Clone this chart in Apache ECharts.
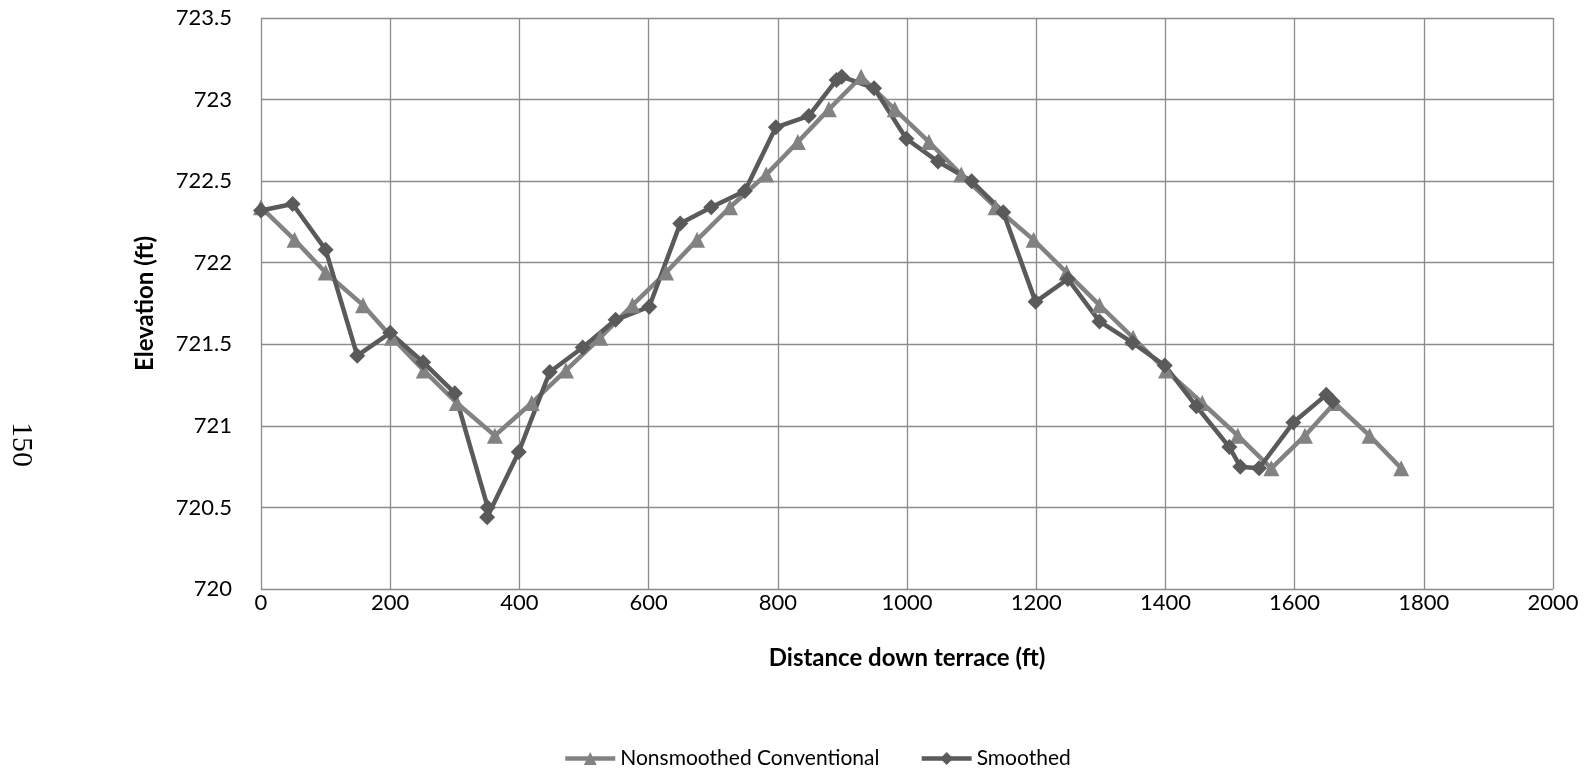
<!DOCTYPE html>
<html>
<head>
<meta charset="utf-8">
<script src="https://cdn.jsdelivr.net/npm/echarts@6/dist/echarts.min.js"></script>
<style>html,body{margin:0;padding:0;background:#fff;}#c{width:1592px;height:772px;}</style>
</head>
<body>
<div id="c"></div>
<script>
// Nonsmoothed Conventional
const convDist = [0, 52, 100, 158, 203, 252, 303, 362, 419, 472, 525, 575, 627, 675, 726, 782, 831, 879, 929, 981, 1034, 1084, 1137, 1196, 1247, 1298, 1350, 1401, 1457, 1512, 1564, 1616, 1662, 1716, 1765];
const convElev = [722.34, 722.14, 721.94, 721.74, 721.54, 721.34, 721.14, 720.94, 721.14, 721.34, 721.54, 721.74, 721.94, 722.14, 722.34, 722.54, 722.74, 722.94, 723.14, 722.94, 722.74, 722.54, 722.34, 722.14, 721.94, 721.74, 721.54, 721.34, 721.14, 720.94, 720.74, 720.94, 721.14, 720.94, 720.74];
// Smoothed
const smDist = [0, 49, 100, 149, 200, 251, 300, 351, 350, 399, 447, 498, 549, 601, 649, 697, 749, 797, 848, 891, 899, 949, 999, 1048, 1100, 1149, 1199, 1249, 1298, 1349, 1399, 1448, 1499, 1516, 1545, 1598, 1649, 1659];
const smElev = [722.32, 722.36, 722.08, 721.43, 721.57, 721.39, 721.20, 720.50, 720.44, 720.84, 721.33, 721.48, 721.65, 721.73, 722.24, 722.34, 722.44, 722.83, 722.90, 723.12, 723.14, 723.07, 722.76, 722.62, 722.50, 722.31, 721.76, 721.90, 721.64, 721.51, 721.37, 721.12, 720.87, 720.75, 720.74, 721.02, 721.19, 721.15];
const seriesNames = ['Nonsmoothed Conventional', 'Smoothed'];
const xTitle = 'Distance down terrace (ft)';
const yTitle = 'Elevation (ft)';
const pageNumber = '150';

const FONT = 'Lato';
const chart = echarts.init(document.getElementById('c'), null, {renderer: 'canvas'});
const zip = (a, b) => a.map((v, i) => [v, b[i]]);
chart.setOption({
  animation: false,
  backgroundColor: '#ffffff',
  grid: {left: 261, right: 39, top: 18, bottom: 183, containLabel: false},
  xAxis: {
    type: 'value', min: 0, max: 2000, interval: 200,
    name: xTitle, nameLocation: 'middle', nameGap: 57,
    nameTextStyle: {fontFamily: FONT, fontSize: 24, fontWeight: 'bold', color: '#000'},
    axisLine: {show: false}, axisTick: {show: false},
    axisLabel: {fontFamily: FONT, fontSize: 22, color: '#000', margin: 3, formatter: v => String(v)},
    splitLine: {show: true, lineStyle: {color: '#8c8c8c', width: 1.3}}
  },
  yAxis: {
    type: 'value', min: 720, max: 723.5, interval: 0.5,
    name: yTitle, nameLocation: 'middle', nameGap: 104, nameRotate: 90,
    nameTextStyle: {fontFamily: FONT, fontSize: 24, fontWeight: 'bold', color: '#000'},
    axisLine: {show: false}, axisTick: {show: false},
    axisLabel: {fontFamily: FONT, fontSize: 22, color: '#000', margin: 29, formatter: v => String(v)},
    splitLine: {show: true, lineStyle: {color: '#8c8c8c', width: 1.3}}
  },
  legend: {
    top: 743, left: 558, itemGap: 40, itemWidth: 50, itemHeight: 16,
    textStyle: {fontFamily: FONT, fontSize: 21, color: '#000'},
    lineStyle: {width: 4.5},
    data: seriesNames
  },
  graphic: [{
    type: 'text', left: 6, top: 422, rotation: -Math.PI / 2,
    style: {text: pageNumber, font: '30px "Liberation Serif"', fill: '#000'}
  }],
  series: [
    {
      name: seriesNames[0], type: 'line', data: zip(convDist, convElev),
      symbol: 'triangle', symbolSize: 16,
      lineStyle: {color: '#828282', width: 4.5},
      itemStyle: {color: '#828282'}
    },
    {
      name: seriesNames[1], type: 'line', data: zip(smDist, smElev),
      symbol: 'diamond', symbolSize: 16,
      lineStyle: {color: '#5a5a5a', width: 4.5},
      itemStyle: {color: '#5a5a5a'}
    }
  ]
});
</script>
</body>
</html>
